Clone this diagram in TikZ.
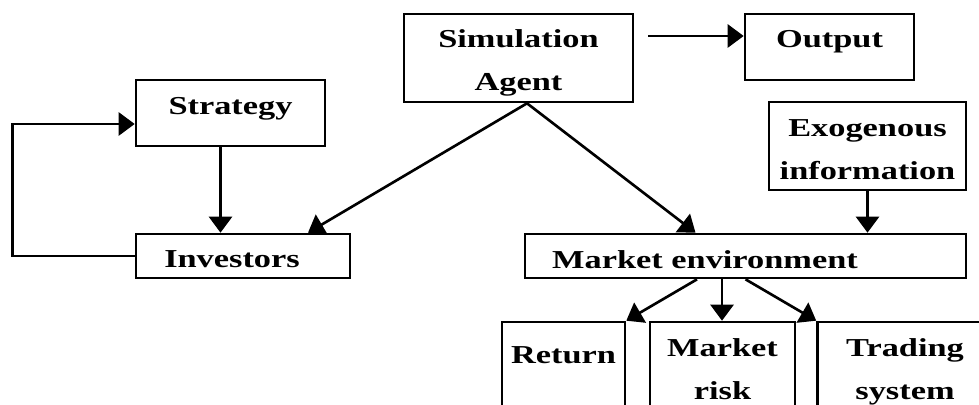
\documentclass[tikz,border=0pt]{standalone}
\usepackage{fontspec}
\setmainfont{Liberation Serif}[FakeStretch=1.33]
\usetikzlibrary{arrows.meta,calc}

\tikzset{
  box/.style={draw, line width=1.5pt, inner sep=0pt, align=center, text height=0.5cm,
    font=\fontsize{14.7}{25}\selectfont\bfseries},
  arr/.style={line width=1.5pt, -{Triangle[length=0.32cm,width=0.46cm]}}
}

\begin{document}
\begin{tikzpicture}[x=0.02cm, y=-0.02cm]
      \useasboundingbox (0, 0) rectangle (979, 405);
      \clip (0, 0) rectangle (979, 405);
      % two-line boxes: baseline is the last line
      \node[box, minimum width=4.58cm, minimum height=1.76cm, text height=1.5cm, text depth=0.18cm] (sim) at (518.5, 58) {Simulation\hspace{0.25cm}\\Agent\hspace{0.9cm}};
      \node[box, minimum width=3.38cm, minimum height=1.32cm, text depth=0.46cm] (out) at (829.5, 47) {Output};
      \node[box, minimum width=3.78cm, minimum height=1.32cm, text depth=0.42cm] (strat) at (230.5, 113) {Strategy};
      \node[box, minimum width=4.28cm, minimum height=0.88cm, text depth=0.02cm] (inv) at (243, 256) {Investors\hspace{0.44cm}};
      \node[box, minimum width=3.94cm, minimum height=1.76cm, text height=1.5cm, text depth=0.14cm] (exo) at (867.5, 146) {Exogenous\\information};
      \node[box, minimum width=8.82cm, minimum height=0.88cm, text height=0.54cm, text depth=0.02cm] (env) at (745.5, 256) {Market environment\hspace{1.62cm}};
      \node[box, minimum width=2.46cm, minimum height=1.96cm, text depth=0.8cm] (ret) at (563.5, 371) {Return};
      \node[box, minimum width=2.9cm, minimum height=1.96cm, text height=1.5cm, text depth=0.34cm] (risk) at (722.5, 371) {Market\\risk};
      \node[box, minimum width=3.5cm, minimum height=1.96cm, text height=1.5cm, text depth=0.34cm] (trad) at (905, 371) {Trading\\system};
      \coordinate (start) at (648, 36);
      \draw[arr] (start) -- (start -| out.west);
      \draw[arr] ([xshift=-0.2cm]strat.south) -- ([xshift=-0.2cm]strat.south |- inv.north);
      \draw[arr] (inv.west) -- ++(-122, 0) |- ([yshift=-0.22cm]strat.west);
      \draw[arr] ([xshift=0.17cm]sim.south) -- ([xshift=1.3cm]inv.north);
      \draw[arr] ([xshift=0.17cm]sim.south) -- ([xshift=-1cm]env.north);
      \draw[arr] (exo.south) -- (exo.south |- env.north);
      \draw[arr] ([xshift=-0.97cm]env.south) -- (ret.north east);
      \draw[arr] ([xshift=-0.47cm]env.south) -- ([xshift=-0.47cm]env.south |- risk.north);
      \draw[arr] (env.south) -- (trad.north west);
\end{tikzpicture}
\end{document}
